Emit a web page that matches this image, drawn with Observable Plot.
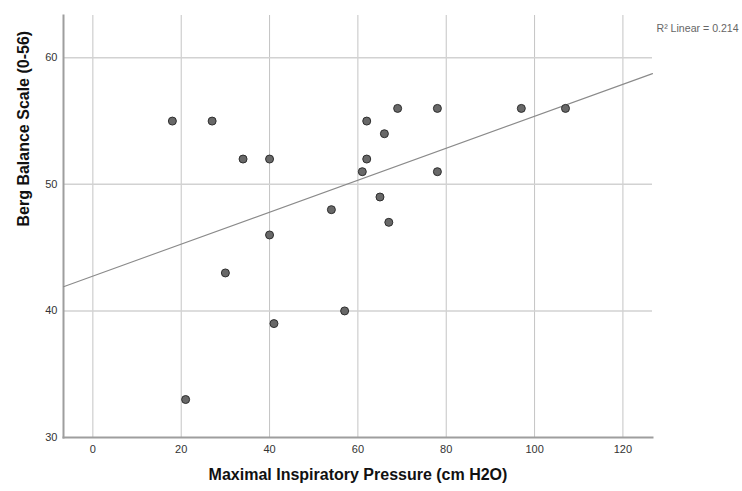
<!DOCTYPE html>
<html>
<head>
<meta charset="utf-8">
<script src="https://cdn.jsdelivr.net/npm/d3@7"></script>
<script src="https://cdn.jsdelivr.net/npm/@observablehq/plot@0.6"></script>
<style>
  html, body { margin: 0; padding: 0; background: #fff; }
  #chart svg { display: block; }
</style>
</head>
<body>
<div id="chart"></div>
<script>
const mip  = [18, 27, 34, 40, 62, 69, 78, 66, 62, 61, 78, 65, 54, 67, 40, 97, 107, 30, 21, 41, 57];
const berg = [55, 55, 52, 52, 55, 56, 56, 54, 52, 51, 51, 49, 48, 47, 46, 56, 56, 43, 33, 39, 40];
const xTicks = [0, 20, 40, 60, 80, 100, 120];
const yTicks = [30, 40, 50, 60];
const xDomain = [-6.65, 126.7];
const yDomain = [30, 63.34];
const xTitle = "Maximal Inspiratory Pressure (cm H2O)";
const yTitle = "Berg Balance Scale (0-56)";

const data = mip.map((x, i) => ({x, y: berg[i]}));

// least squares fit
const mx = d3.mean(mip), my = d3.mean(berg);
let sxy = 0, sxx = 0, syy = 0;
data.forEach(d => { sxy += (d.x - mx) * (d.y - my); sxx += (d.x - mx) ** 2; syy += (d.y - my) ** 2; });
const slope = sxy / sxx;
const intercept = my - slope * mx;
const r2 = (sxy * sxy) / (sxx * syy);
const fit = xDomain.map(x => ({x, y: intercept + slope * x}));
const r2Label = "R\u00B2 Linear = " + r2.toFixed(3);

const font = "'Liberation Sans', Arial, sans-serif";

const chart = Plot.plot({
  width: 742,
  height: 491,
  marginLeft: 63,
  marginRight: 90,
  marginTop: 15,
  marginBottom: 54,
  style: {fontFamily: font, background: "#fff", overflow: "visible"},
  x: {domain: xDomain, axis: null},
  y: {domain: yDomain, axis: null},
  marks: [
    Plot.gridX(xTicks, {stroke: "#c4c4c4", strokeOpacity: 1, strokeWidth: 1}),
    Plot.gridY(yTicks.filter(t => t > yDomain[0]), {stroke: "#d2d2d2", strokeOpacity: 1, strokeWidth: 1.5}),
    Plot.axisX(xTicks, {tickSize: 0, tickPadding: 8, fontSize: 11, fill: "#333", label: null}),
    Plot.axisY(yTicks, {tickSize: 0, tickPadding: 6, fontSize: 11, fill: "#333", label: null}),
    Plot.frame({anchor: "left", stroke: "#9e9e9e", strokeWidth: 2}),
    Plot.frame({anchor: "bottom", stroke: "#9e9e9e", strokeWidth: 2}),
    Plot.line(fit, {x: "x", y: "y", stroke: "#8a8a8a", strokeWidth: 1.1}),
    Plot.dot(data, {x: "x", y: "y", r: 4, fill: "#686868", stroke: "#2e2e2e", strokeWidth: 1}),
    Plot.text([r2Label], {frameAnchor: "top-right", dx: 4, dy: 9, textAnchor: "start", fontSize: 10.6, fill: "#666"}),
    Plot.text([xTitle], {frameAnchor: "bottom", dy: 42, fontSize: 16, fontWeight: "bold", fill: "#111"}),
    Plot.text([yTitle], {frameAnchor: "left", dx: -40, rotate: -90, fontSize: 16, fontWeight: "bold", fill: "#111"})
  ]
});
document.getElementById("chart").appendChild(chart);
</script>
</body>
</html>
